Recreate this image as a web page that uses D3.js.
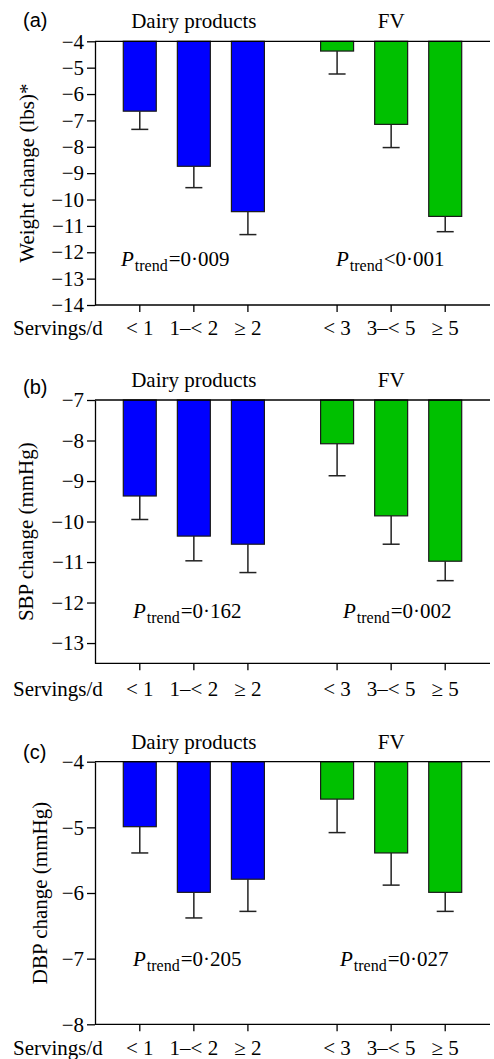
<!DOCTYPE html>
<html><head><meta charset="utf-8">
<script src="https://cdn.jsdelivr.net/npm/d3@7"></script>
<style>body{margin:0;background:#fff}svg{display:block}</style>
</head><body>
<script>
// ---- data ----
const groups = ["Dairy products", "FV"];
const categories = ["< 1", "1–< 2", "≥ 2", "< 3", "3–< 5", "≥ 5"];
const groupOf = [0, 0, 0, 1, 1, 1];

const weightMean = [-6.65, -8.74, -10.46, -4.37, -7.15, -10.64];
const weightErr  = [0.69, 0.81, 0.87, 0.87, 0.88, 0.58];
const sbpMean = [-9.37, -10.36, -10.56, -8.08, -9.86, -10.98];
const sbpErr  = [0.58, 0.61, 0.70, 0.79, 0.70, 0.48];
const dbpMean = [-4.99, -5.99, -5.79, -4.57, -5.39, -5.99];
const dbpErr  = [0.40, 0.39, 0.49, 0.51, 0.49, 0.29];

const weightTicks = [-4, -5, -6, -7, -8, -9, -10, -11, -12, -13, -14];
const sbpTicks = [-7, -8, -9, -10, -11, -12, -13];
const dbpTicks = [-4, -5, -6, -7, -8];

const weightP = ["=0·009", "<0·001"];
const sbpP = ["=0·162", "=0·002"];
const dbpP = ["=0·205", "=0·027"];

const colors = ["#0000ff", "#00c000"];

// ---- layout ----
const W = 494, H = 1059;
const serif = "'Liberation Serif','Times New Roman',serif";
const sans = "'Liberation Sans',Arial,sans-serif";
const axisX0 = 95, axisX1 = 490;

const panels = [
  {tag: "(a)", tagY: 27, label: "Weight change (lbs)*", labelX: 34, means: weightMean, errs: weightErr,
   ticks: weightTicks, domain: [-4, -14], range: [41.3, 305], p: weightP, pX: [121, 336], pY: 266, servY: 335},
  {tag: "(b)", tagY: 394, label: "SBP change (mmHg)", labelX: 33, means: sbpMean, errs: sbpErr,
   ticks: sbpTicks, domain: [-7, -13.5], range: [400, 663.3], p: sbpP, pX: [133, 343], pY: 618, servY: 696},
  {tag: "(c)", tagY: 759, label: "DBP change (mmHg)", labelX: 47, means: dbpMean, errs: dbpErr,
   ticks: dbpTicks, domain: [-4, -8], range: [761.7, 1024.3], p: dbpP, pX: [133, 340], pY: 966, servY: 1055}
];

const svg = d3.select("body").append("svg").attr("width", W).attr("height", H);

const xGroup = d3.scaleBand().domain(groups).range([axisX0, axisX1]).paddingInner(0.178).paddingOuter(0.09);
const xInner = d3.scaleBand().domain([0, 1, 2]).range([0, xGroup.bandwidth()]).paddingInner(0.39).paddingOuter(0.195);
const xLeft = i => xGroup(groups[groupOf[i]]) + xInner(i % 3);
const xMid = i => xLeft(i) + xInner.bandwidth() / 2;

panels.forEach(P => {
  const g = svg.append("g");
  const y = d3.scaleLinear().domain(P.domain).range(P.range);
  const top = y(P.domain[0]), bot = y(P.domain[1]);

  // bars
  const idx = d3.range(categories.length);
  g.selectAll("rect.bar").data(idx).join("rect")
    .attr("x", i => xLeft(i)).attr("width", xInner.bandwidth())
    .attr("y", top).attr("height", i => y(P.means[i]) - top)
    .attr("fill", i => colors[groupOf[i]])
    .attr("stroke", "#1a1a1a").attr("stroke-width", 1.2);

  // error bars
  g.selectAll("line.err").data(idx).join("line")
    .attr("x1", i => xMid(i)).attr("x2", i => xMid(i))
    .attr("y1", i => y(P.means[i])).attr("y2", i => y(P.means[i] - P.errs[i]))
    .attr("stroke", "#222").attr("stroke-width", 1.5);
  g.selectAll("line.cap").data(idx).join("line")
    .attr("x1", i => xMid(i) - 8.5).attr("x2", i => xMid(i) + 8.5)
    .attr("y1", i => y(P.means[i] - P.errs[i])).attr("y2", i => y(P.means[i] - P.errs[i]))
    .attr("stroke", "#222").attr("stroke-width", 1.5);

  // top line
  g.append("line").attr("x1", axisX0).attr("x2", axisX1).attr("y1", top).attr("y2", top)
    .attr("stroke", "#000").attr("stroke-width", 1.3);
  // bottom line
  g.append("line").attr("x1", axisX0).attr("x2", axisX1).attr("y1", bot).attr("y2", bot)
    .attr("stroke", "#000").attr("stroke-width", 1.3);
  // x ticks and labels
  g.selectAll("line.xt").data(idx).join("line")
    .attr("x1", i => xMid(i)).attr("x2", i => xMid(i)).attr("y1", bot).attr("y2", bot + 7)
    .attr("stroke", "#000").attr("stroke-width", 1.3);
  g.selectAll("text.xl").data(idx).join("text")
    .attr("x", i => xMid(i)).attr("y", P.servY).attr("text-anchor", "middle")
    .attr("font-family", serif).attr("font-size", 21).text(i => categories[i]);
  g.append("text").attr("x", 13).attr("y", P.servY).attr("font-family", serif).attr("font-size", 21)
    .text("Servings/d");

  // y axis
  const ax = g.append("g").attr("transform", `translate(${axisX0},0)`)
    .call(d3.axisLeft(y).tickValues(P.ticks).tickSize(8).tickSizeOuter(0).tickPadding(3).tickFormat(d3.format("d")));
  ax.select(".domain").attr("stroke", "#000").attr("stroke-width", 1.3);
  ax.selectAll(".tick line").attr("stroke", "#000").attr("stroke-width", 1.3);
  ax.selectAll(".tick text").attr("font-family", serif).attr("font-size", 21).attr("fill", "#000");

  // y label
  const cy = (top + bot) / 2;
  g.append("text").attr("transform", `translate(${P.labelX},${cy}) rotate(-90)`)
    .attr("text-anchor", "middle").attr("font-family", serif).attr("font-size", 21).text(P.label);

  // group titles
  g.selectAll("text.gt").data(groups).join("text")
    .attr("x", d => xGroup(d) + xGroup.bandwidth() / 2).attr("y", top - 13)
    .attr("text-anchor", "middle").attr("font-family", serif).attr("font-size", 21).text(d => d);

  // panel tag
  g.append("text").attr("x", 23).attr("y", P.tagY).attr("font-family", sans).attr("font-size", 20).text(P.tag);

  // P trend
  P.p.forEach((s, k) => {
    const t = g.append("text").attr("x", P.pX[k]).attr("y", P.pY).attr("font-family", serif).attr("font-size", 21);
    t.append("tspan").attr("font-style", "italic").text("P");
    t.append("tspan").attr("font-size", 16).attr("dy", 5).attr("dx", 1).text("trend");
    t.append("tspan").attr("dy", -5).attr("dx", 1).text(s);
  });
});
</script>
</body></html>
